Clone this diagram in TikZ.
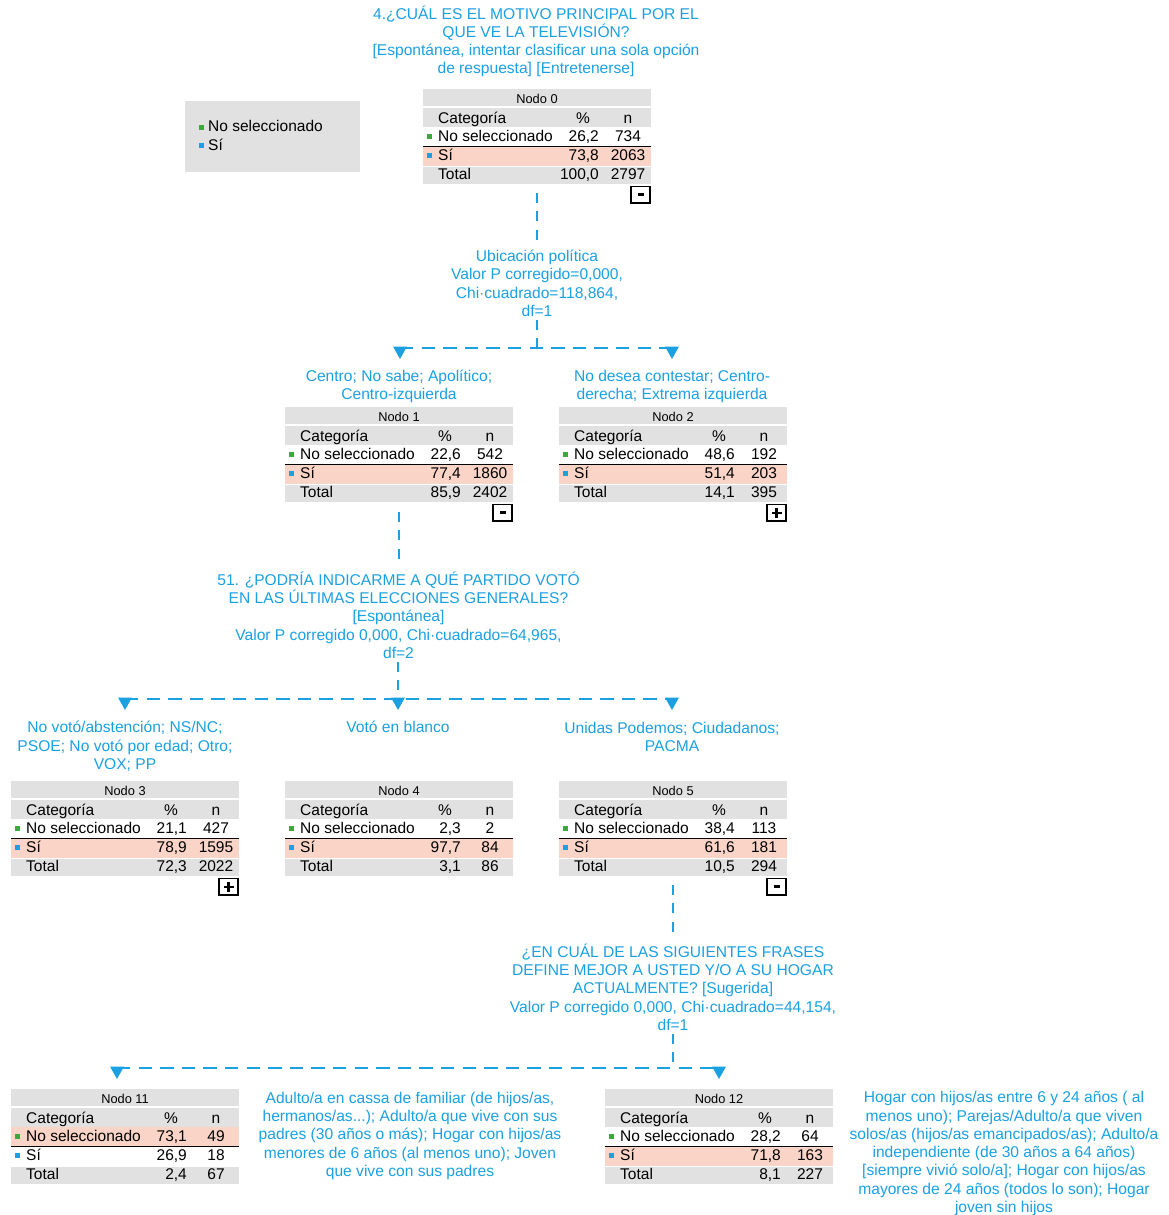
\documentclass[tikz,border=0pt]{standalone}
\usepackage{fontspec}
\setmainfont{Liberation Sans}
\definecolor{sblue}{RGB}{27,161,226}
\definecolor{sgray}{RGB}{225,225,225}
\definecolor{spink}{RGB}{250,213,199}
\definecolor{sgreen}{RGB}{62,168,62}
\tikzset{
  lbl/.style={text=sblue, font=\fontsize{15.6}{18.3}\selectfont, align=center, inner sep=3pt, anchor=base},
  tx/.style={font=\fontsize{15.5}{18}\selectfont, inner sep=0pt},
  hdr/.style={font=\fontsize{12.8}{15}\selectfont, inner sep=0pt, anchor=base},
  vd/.style={draw=sblue, line width=2.5pt, dash pattern=on 10pt off 8.3pt},
  hd/.style={draw=sblue, line width=2.8pt, dash pattern=on 13.3pt off 8.3pt},
  tbox/.style={minimum width=228pt, minimum height=95pt, inner sep=0pt, outer sep=0pt, anchor=north west},
}
\def\splitpn#1/#2\relax{\def\pv{#1}\def\nv{#2}}
% name, left, top, title, row1 p/n, row2 p/n, total p/n, pink row
\newcommand\spsstable[8]{%
  \node[tbox] (#1) at (#2,#3) {};
  \fill[sgray] (#2,#3) rectangle ++(228,17);
  \fill[sgray] (#2,#3+19) rectangle ++(228,19);
  \ifnum#8=1 \fill[spink] (#2,#3+38) rectangle ++(228,19.3);\else \fill[spink] (#2,#3+58) rectangle ++(228,18.5);\fi
  \fill[sgray] (#2,#3+77.5) rectangle ++(228,17.5);
  \draw[line width=1.3pt] (#2,#3+57.6) -- ++(228,0);
  \node[hdr] at (#2+114,#3+14) {#4};
  \node[tx,anchor=base west] at (#2+15,#3+34) {Categoría};
  \node[tx,anchor=base] at (#2+160,#3+34) {\%};
  \node[tx,anchor=base] at (#2+205,#3+34) {n};
  \fill[sgreen] (#2+4.3,#3+45.3) rectangle ++(4.6,4.6);
  \node[tx,anchor=base west] at (#2+15,#3+52.5) {No seleccionado};
  \splitpn#5\relax
  \node[tx,anchor=base east] at (#2+176,#3+52.5) {\pv};
  \node[tx,anchor=base] at (#2+205,#3+52.5) {\nv};
  \fill[sblue] (#2+4.3,#3+64.3) rectangle ++(4.6,4.6);
  \node[tx,anchor=base west] at (#2+15,#3+71.5) {Sí};
  \splitpn#6\relax
  \node[tx,anchor=base east] at (#2+176,#3+71.5) {\pv};
  \node[tx,anchor=base] at (#2+205,#3+71.5) {\nv};
  \node[tx,anchor=base west] at (#2+15,#3+90.5) {Total};
  \splitpn#7\relax
  \node[tx,anchor=base east] at (#2+176,#3+90.5) {\pv};
  \node[tx,anchor=base] at (#2+205,#3+90.5) {\nv};
}
\newcommand\togbox[3]{%
  \draw[fill=white, line width=1.2pt] (#1+208,#2+97.5) rectangle (#1+227,#2+114);
  \ifx-#3
    \fill (#1+214.5,#2+104.3) rectangle ++(6,3);
  \else
    \fill (#1+212.5,#2+104.5) rectangle ++(10,2.6);
    \fill (#1+216.2,#2+100.8) rectangle ++(2.6,10);
  \fi
}
\newcommand\arrowtri[1]{\fill[sblue] ([xshift=-7pt,yshift=1.5pt]#1) -- ([xshift=7pt,yshift=1.5pt]#1) -- ([yshift=-11pt]#1) -- cycle;}
\begin{document}
\begin{tikzpicture}[x=1pt,y=-1pt]
\fill[white] (0,0) rectangle (1168,1215);
\useasboundingbox (0,0) rectangle (1168,1215);

% title (anchor = baseline of last line)
\node[lbl, font=\fontsize{15.6}{18}\selectfont] (t0) at (536,73.5) {4.¿CUÁL ES EL MOTIVO PRINCIPAL POR EL\\QUE VE LA TELEVISIÓN?\\{[}Espontánea, intentar clasificar una sola opción\\de respuesta] [Entretenerse]};

% legend
\node[fill=sgray, minimum width=175pt, minimum height=71pt, anchor=north west, inner sep=0pt] (lg) at (185,101) {};
\fill[sgreen] (198.5,124.5) rectangle ++(5,5);
\node[tx,anchor=base west] (lgA) at (208,131.5) {No seleccionado};
\fill[sblue] (198.5,143.3) rectangle ++(5,5);
\node[tx,anchor=base west] (lgB) at (208,150) {Sí};

% level 0
\spsstable{n0}{423}{89}{Nodo 0}{26,2/734}{73,8/2063}{100,0/2797}{2}
\togbox{423}{89}{-}
\node[lbl] (s0) at (537,316.5) {Ubicación política\\Valor P corregido=0,000,\\Chi·cuadrado=118,864,\\df=1};
\coordinate (j0) at (537,348);
\coordinate (a1) at (400,348);
\coordinate (a2) at (672,348);
\draw[vd] ([yshift=-9pt]n0.south) -- ([yshift=6pt]s0.north);
\draw[vd] (s0.south -| j0) -- (j0);
\draw[hd] (a1) -- (a2);
\arrowtri{a1}
\arrowtri{a2}

% level 1
\node[lbl] (l1) at (399,399.5) {Centro; No sabe; Apolítico;\\Centro-izquierda};
\node[lbl] (l2) at (672,399.5) {No desea contestar; Centro-\\derecha; Extrema izquierda};
\spsstable{n1}{285}{407}{Nodo 1}{22,6/542}{77,4/1860}{85,9/2402}{2}
\togbox{285}{407}{-}
\spsstable{n2}{559}{407}{Nodo 2}{48,6/192}{51,4/203}{14,1/395}{2}
\togbox{559}{407}{+}
\node[lbl] (s1) at (398.5,658.5) {51. ¿PODRÍA INDICARME A QUÉ PARTIDO VOTÓ\\EN LAS ÚLTIMAS ELECCIONES GENERALES?\\{[}Espontánea]\\Valor P corregido 0,000, Chi·cuadrado=64,965,\\df=2};
\coordinate (j1) at (398,699);
\coordinate (b1) at (125,699);
\coordinate (b2) at (398,699);
\coordinate (b3) at (672,699);
\draw[vd] ([yshift=-10pt]n1.south) -- ([yshift=6pt]n1.south |- s1.north);
\draw[vd] (s1.south -| j1) -- (j1);
\draw[hd] (b1) -- (b3);
\arrowtri{b1}
\arrowtri{b2}
\arrowtri{b3}

% level 2
\node[lbl] (l3) at (125,769.5) {No votó/abstención; NS/NC;\\PSOE; No votó por edad; Otro;\\VOX; PP};
\node[lbl] (l4) at (398,732.5) {Votó en blanco};
\node[lbl] (l5) at (672,751.5) {Unidas Podemos; Ciudadanos;\\PACMA};
\spsstable{n3}{11}{781}{Nodo 3}{21,1/427}{78,9/1595}{72,3/2022}{2}
\togbox{11}{781}{+}
\spsstable{n4}{285}{781}{Nodo 4}{2,3/2}{97,7/84}{3,1/86}{2}
\spsstable{n5}{559}{781}{Nodo 5}{38,4/113}{61,6/181}{10,5/294}{2}
\togbox{559}{781}{-}
\node[lbl] (s2) at (673,1030.5) {¿EN CUÁL DE LAS SIGUIENTES FRASES\\DEFINE MEJOR A USTED Y/O A SU HOGAR\\ACTUALMENTE? [Sugerida]\\Valor P corregido 0,000, Chi·cuadrado=44,154,\\df=1};
\coordinate (j2) at (673,1068);
\coordinate (c1) at (117,1068);
\coordinate (c2) at (719,1068);
\draw[vd] ([yshift=-9pt]n5.south) -- ([yshift=6pt]s2.north);
\draw[vd] (s2.south -| j2) -- (j2);
\draw[hd] (c1) -- (c2);
\arrowtri{c1}
\arrowtri{c2}

% level 3
\spsstable{n11}{11}{1089}{Nodo 11}{73,1/49}{26,9/18}{2,4/67}{1}
\spsstable{n12}{605}{1089}{Nodo 12}{28,2/64}{71,8/163}{8,1/227}{2}
\node[lbl] (l11) at (410,1176.5) {Adulto/a en cassa de familiar (de hijos/as,\\hermanos/as...); Adulto/a que vive con sus\\padres (30 años o más); Hogar con hijos/as\\menores de 6 años (al menos uno); Joven\\que vive con sus padres};
\node[lbl] (l12) at (1004,1212.5) {Hogar con hijos/as entre 6 y 24 años ( al\\menos uno); Parejas/Adulto/a que viven\\solos/as (hijos/as emancipados/as); Adulto/a\\independiente (de 30 años a 64 años)\\{[}siempre vivió solo/a]; Hogar con hijos/as\\mayores de 24 años (todos lo son); Hogar\\joven sin hijos};
\end{tikzpicture}
\end{document}
